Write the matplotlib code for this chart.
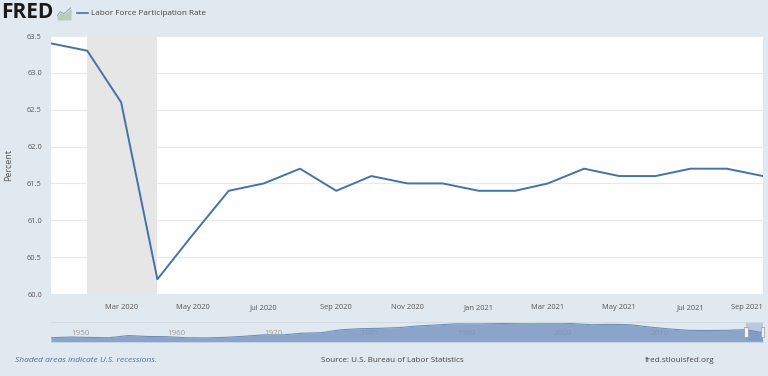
import matplotlib
matplotlib.use('Agg')
import matplotlib.pyplot as plt
import matplotlib.dates as mdates
from matplotlib.patches import Rectangle
from datetime import datetime

plt.rcParams['font.family'] = ['Open Sans', 'DejaVu Sans']

months = ['2020-01','2020-02','2020-03','2020-04','2020-05','2020-06','2020-07',
          '2020-08','2020-09','2020-10','2020-11','2020-12','2021-01','2021-02',
          '2021-03','2021-04','2021-05','2021-06','2021-07','2021-08','2021-09']
rate = [63.4,63.3,62.6,60.2,60.8,61.4,61.5,61.7,61.4,61.6,61.5,61.5,61.4,61.4,
        61.5,61.7,61.6,61.6,61.7,61.7,61.6]
tick_months = ['2020-03','2020-05','2020-07','2020-09','2020-11','2021-01',
               '2021-03','2021-05','2021-07','2021-09']
tick_labels = ['Mar 2020','May 2020','Jul 2020','Sep 2020','Nov 2020','Jan 2021',
               'Mar 2021','May 2021','Jul 2021','Sep 2021']
y_ticks = [60.0,60.5,61.0,61.5,62.0,62.5,63.0,63.5]
recession = ['2020-02','2020-04']

hist_years = [1948,1950,1952,1954,1956,1958,1960,1962,1964,1966,1968,1970,1972,1974,
              1976,1978,1980,1982,1984,1986,1988,1990,1992,1994,1996,1998,2000,2002,
              2004,2006,2008,2010,2012,2014,2016,2018,2020,2021.7]
hist_rate = [58.8,59.2,59.0,58.8,60.0,59.5,59.4,58.8,58.7,59.0,59.6,60.4,60.4,61.3,
             61.6,63.2,63.8,64.0,64.4,65.3,65.9,66.5,66.4,66.6,66.8,67.1,67.3,66.6,
             66.0,66.2,66.0,64.7,63.7,62.9,62.8,62.9,63.3,61.6]
decades = [1950,1960,1970,1980,1990,2000,2010]


def d(s):
    return datetime.strptime(s, '%Y-%m')


def yr(v):
    return mdates.date2num(datetime(1948, 1, 1)) + (v - 1948) * 365.25


W, H = 768, 376
bg = '#e1e9f0'
blue = '#4572a7'
fig = plt.figure(figsize=(W / 100, H / 100), dpi=100, facecolor=bg)


def box(left, top, right, bottom):
    return [left / W, 1 - bottom / H, (right - left) / W, (bottom - top) / H]


ax = fig.add_axes(box(51, 36, 763, 294))
dates = [d(m) for m in months]
ax.axvspan(d(recession[0]), d(recession[1]), color='#e6e6e6', lw=0, zorder=1)
ax.plot(dates, rate, color=blue, lw=1.4, zorder=3)
ax.set_xlim(dates[0], dates[-1])
ax.set_ylim(60, 63.5)
ax.set_yticks(y_ticks)
ax.set_yticklabels(['%.1f' % v for v in y_ticks], fontsize=5.4, color='#555555')
ax.set_xticks([d(m) for m in tick_months])
ax.set_xticklabels(tick_labels, fontsize=5.4, color='#555555')
ax.get_xticklabels()[-1].set_ha('right')
ax.tick_params(length=0, pad=7.5)
ax.tick_params(axis='y', pad=6.5)
ax.grid(axis='y', color='#e9e9e9', lw=0.8, zorder=0)
ax.set_axisbelow(True)
for s in ax.spines.values():
    s.set_visible(False)
fig.text(9 / W, 1 - 165 / H, 'Percent', fontsize=6.5, color='#555555', rotation=90, ha='center', va='center')

# navigator
nav = fig.add_axes(box(51, 322, 763, 341))
nav.set_facecolor('none')
nx = [yr(v) for v in hist_years]
nav.fill_between(nx, 50, hist_rate, color='#8aa5c9', lw=0, zorder=1)
nav.plot(nx, hist_rate, color='#6f8fbb', lw=0.8, zorder=2)
nav.set_xlim(yr(1948), yr(2021.75))
nav.set_ylim(57, 67.5)
for dec, col in zip(decades, ['#9a9a9a'] * 3 + ['#7f96b5'] * 4):
    nav.text(yr(dec + 1), 60.9, str(dec), fontsize=5.8, color=col, ha='center', va='center', zorder=3)
nav.axis('off')
nav.add_patch(Rectangle((yr(2020.0), 57), yr(2021.75) - yr(2020.0), 10.5, color='#6f8fc4', alpha=0.35, lw=0, zorder=4))
for h in (2020.0, 2021.7):
    nav.add_patch(Rectangle((yr(h) - 75, 59.2), 150, 5.5, fc='#f2f2f2', ec='#999999', lw=0.5,
                            zorder=5, clip_on=False))
fig.add_artist(plt.Line2D([51 / W, 763 / W], [1 - 321.5 / H] * 2, color='#d3d9df', lw=0.7))
fig.add_artist(plt.Line2D([51 / W, 763 / W], [1 - 341.5 / H] * 2, color='#c8d2de', lw=0.7))

# header
fig.text(1 / W, 1 - 13 / H, 'FRED', fontsize=15, fontweight='bold', color='#1a1a1a', va='center')
icon = fig.add_axes(box(57, 7, 71, 20))
icon.fill_between([0, 1, 2, 3, 4], 0, [0.3, 0.6, 0.45, 0.7, 1], color='#b9ccb4', lw=0)
icon.plot([0, 1, 2, 3, 4], [0.35, 0.7, 0.5, 0.8, 1.05], color='#8fa8c4', lw=0.8)
icon.set_xlim(0, 4)
icon.set_ylim(0, 1.1)
icon.axis('off')
fig.add_artist(plt.Line2D([77 / W, 88 / W], [1 - 13 / H] * 2, color=blue, lw=1.2))
fig.text(91 / W, 1 - 13.5 / H, 'Labor Force Participation Rate', fontsize=5.9, color='#444444', va='center')

# footer
fig.text(15 / W, 1 - 360 / H, 'Shaded areas indicate U.S. recessions.', fontsize=6.1, style='italic',
         color='#4f6fa0', va='center')
fig.text(321 / W, 1 - 360 / H, 'Source: U.S. Bureau of Labor Statistics', fontsize=5.8, color='#444444', va='center')
fig.text(645 / W, 1 - 360 / H, 'fred.stlouisfed.org', fontsize=5.9, color='#444444', va='center')

fig.savefig('out.png', dpi=100, facecolor=bg)
